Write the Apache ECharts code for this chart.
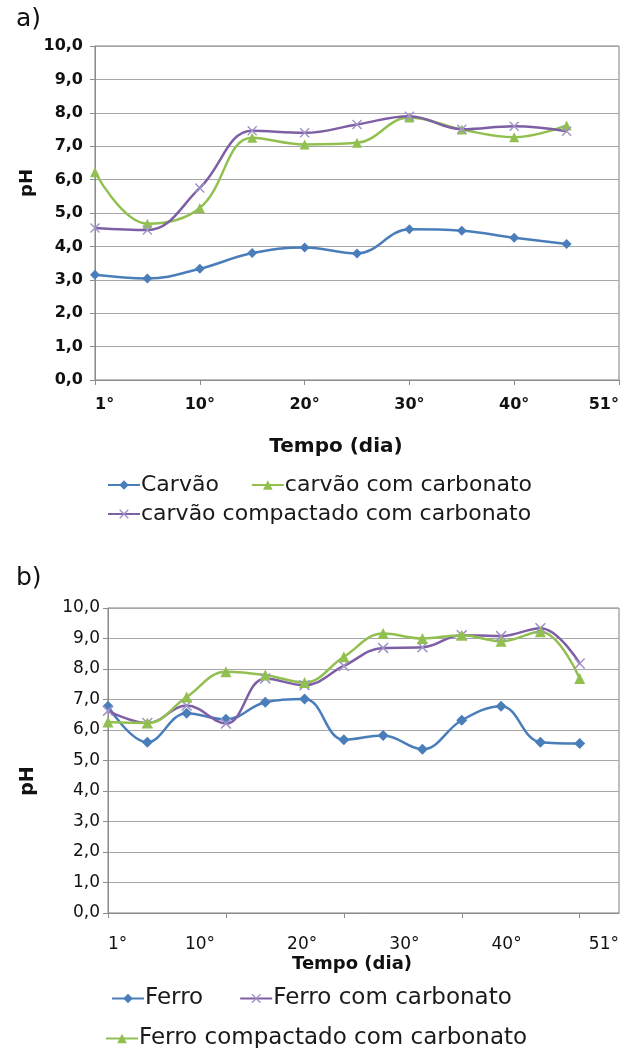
<!DOCTYPE html>
<html>
<head>
<meta charset="utf-8">
<script src="https://cdn.jsdelivr.net/npm/echarts@6/dist/echarts.min.js"></script>
<style>
  html, body { margin: 0; padding: 0; background: #fff; }
  #main { width: 624px; height: 1048px; }
</style>
</head>
<body>
<div id="main"></div>
<script>
// ---- dados (a) carvão ----
var diasA = ['1°', '5°', '10°', '15°', '20°', '25°', '30°', '35°', '40°', '45°', '51°'];
var carvao = [3.15, 3.04, 3.33, 3.80, 3.97, 3.79, 4.51, 4.47, 4.26, 4.07];
var carvaoCarb = [6.22, 4.68, 5.15, 7.25, 7.05, 7.10, 7.86, 7.50, 7.27, 7.62];
var carvaoComp = [4.55, 4.49, 5.75, 7.46, 7.40, 7.65, 7.90, 7.51, 7.60, 7.45];

// ---- dados (b) ferro ----
var amostrasB = ['1', '2', '3', '4', '5', '6', '7', '8', '9', '10', '11', '12', '13', '14'];
var rotulosDiasB = [1, 10, 20, 30, 40, 51];
var ferro = [6.78, 5.60, 6.55, 6.35, 6.91, 7.02, 5.68, 5.82, 5.37, 6.32, 6.78, 5.60, 5.56];
var ferroCarb = [6.63, 6.23, 6.80, 6.21, 7.69, 7.47, 8.10, 8.69, 8.71, 9.11, 9.08, 9.34, 8.18];
var ferroComp = [6.26, 6.23, 7.08, 7.91, 7.80, 7.56, 8.40, 9.16, 9.00, 9.11, 8.91, 9.22, 7.69];

var FONTE = 'DejaVu Sans, sans-serif';
var AZUL = '#4a7ebb', VERDE = '#92c050', ROXO = '#7e5fa5';
var simboloX = 'path://M1,0L5,4L9,0L10,1L6,5L10,9L9,10L5,6L1,10L0,9L4,5L0,1Z';

var chart = echarts.init(document.getElementById('main'));

function virgula(v) { return v.toFixed(1).replace('.', ','); }

function eixoY(grid, tam, negrito, margem) {
    return {
        gridIndex: grid, type: 'value', min: 0, max: 10, interval: 1,
        axisLine: { show: true, lineStyle: { color: '#8c8c8c', width: 1 } },
        axisTick: { show: true, length: 5, lineStyle: { color: '#8c8c8c' } },
        axisLabel: { formatter: virgula, fontFamily: FONTE, fontSize: tam,
                     fontWeight: negrito ? 'bold' : 'normal', color: '#111', margin: margem },
        splitLine: { lineStyle: { color: '#a6a6a6', width: 1 } }
    };
}

function serie(nome, dados, cor, simbolo, tam, eixo, corSimb) {
    return {
        name: nome, type: 'line', data: dados,
        xAxisIndex: eixo, yAxisIndex: eixo,
        smooth: 0.4, symbol: simbolo, symbolSize: tam,
        lineStyle: { color: cor, width: 2.5 },
        itemStyle: { color: corSimb || cor },
        animation: false
    };
}

function legenda(itens, esq, topo, tam, gap) {
    return {
        data: itens, left: esq, top: topo, orient: 'horizontal',
        itemWidth: 32, itemHeight: 12, itemGap: gap, selectedMode: false,
        textStyle: { fontFamily: FONTE, fontSize: tam, color: '#1a1a1a', padding: [0, 0, 0, -4] }
    };
}

var option = {
    backgroundColor: '#fff',
    animation: false,
    grid: [
        { left: 95, right: 5, top: 46, height: 334, show: true, borderColor: '#7f7f7f', borderWidth: 1 },
        { left: 108, right: 5, top: 608, height: 305, show: true, borderColor: '#7f7f7f', borderWidth: 1 }
    ],
    xAxis: [
        {
            gridIndex: 0, type: 'category', data: diasA, boundaryGap: false,
            axisLine: { lineStyle: { color: '#8c8c8c' } },
            axisTick: { show: true, interval: 1, length: 5, lineStyle: { color: '#8c8c8c' } },
            axisLabel: { interval: 1, fontFamily: FONTE, fontSize: 16, fontWeight: 'bold', color: '#111',
                         margin: 17, alignMinLabel: 'left', alignMaxLabel: 'right' },
            splitLine: { show: false }
        },
        {
            gridIndex: 1, type: 'category', data: amostrasB, boundaryGap: false,
            axisLine: { lineStyle: { color: '#8c8c8c' } },
            axisTick: { show: true, interval: 2, length: 5, lineStyle: { color: '#8c8c8c' } },
            axisLabel: { show: false },
            splitLine: { show: false }
        },
        {
            gridIndex: 1, type: 'value', min: 1, max: 51, position: 'bottom',
            axisLine: { show: false }, axisTick: { show: false }, splitLine: { show: false },
            axisLabel: { customValues: rotulosDiasB, formatter: '{value}°', fontFamily: FONTE,
                         fontSize: 17, color: '#111', margin: 23,
                         alignMinLabel: 'left', alignMaxLabel: 'right' }
        }
    ],
    yAxis: [eixoY(0, 16, true, 12), eixoY(1, 17, false, 8)],
    legend: [
        legenda(['Carvão', 'carvão com carbonato'], 102, 469, 22, 32),
        legenda(['carvão compactado com carbonato'], 102, 498, 22, 32),
        legenda(['Ferro', 'Ferro com carbonato'], 106, 982, 23, 36),
        legenda(['Ferro compactado com carbonato'], 100, 1022, 23, 32)
    ],
    graphic: [
        { type: 'text', left: 16, top: 7, style: { text: 'a)', font: '25px ' + FONTE, fill: '#111' } },
        { type: 'text', left: 16, top: 566, style: { text: 'b)', font: '25px ' + FONTE, fill: '#111' } },
        { type: 'text', x: 27, y: 183, rotation: Math.PI / 2,
          style: { text: 'pH', font: 'bold 18px ' + FONTE, fill: '#111', align: 'center', verticalAlign: 'middle' } },
        { type: 'text', x: 28, y: 781, rotation: Math.PI / 2,
          style: { text: 'pH', font: 'bold 19px ' + FONTE, fill: '#111', align: 'center', verticalAlign: 'middle' } },
        { type: 'text', x: 336, y: 447,
          style: { text: 'Tempo (dia)', font: 'bold 20px ' + FONTE, fill: '#111', align: 'center', verticalAlign: 'middle' } },
        { type: 'text', x: 352, y: 964,
          style: { text: 'Tempo (dia)', font: 'bold 18px ' + FONTE, fill: '#111', align: 'center', verticalAlign: 'middle' } }
    ],
    series: [
        serie('Carvão', carvao, AZUL, 'diamond', 10, 0),
        serie('carvão com carbonato', carvaoCarb, VERDE, 'triangle', 10, 0),
        serie('carvão compactado com carbonato', carvaoComp, ROXO, simboloX, 10, 0, '#a093c8'),
        serie('Ferro', ferro, AZUL, 'diamond', 11, 1),
        serie('Ferro com carbonato', ferroCarb, ROXO, simboloX, 11, 1, '#a093c8'),
        serie('Ferro compactado com carbonato', ferroComp, VERDE, 'triangle', 11, 1)
    ]
};
chart.setOption(option);
</script>
</body>
</html>
